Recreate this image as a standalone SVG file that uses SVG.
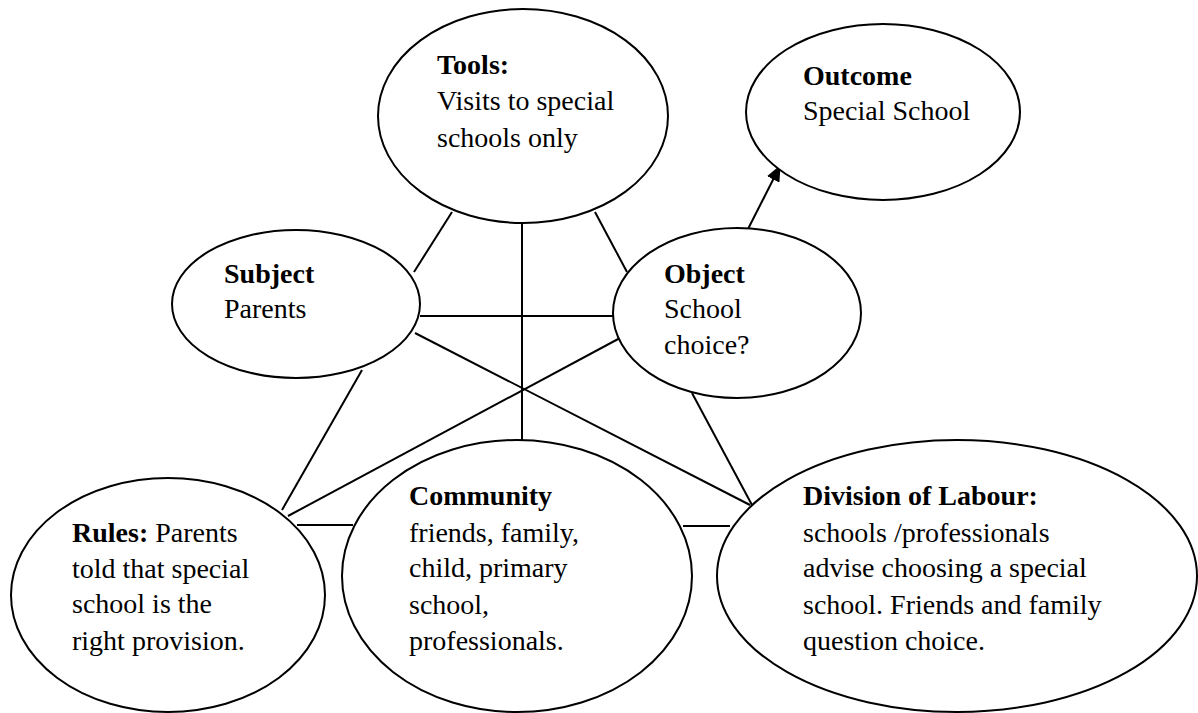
<svg xmlns="http://www.w3.org/2000/svg" width="1198" height="713" viewBox="0 0 1198 713">
<style>
.n{fill:#fff;stroke:#000;stroke-width:2}
.c line{stroke:#000;stroke-width:2}
text{font-family:"Liberation Serif","Times New Roman",serif;font-size:28px;fill:#000}
.b{font-weight:bold}
</style>
<defs>
<marker id="ah" markerWidth="16" markerHeight="14" refX="15" refY="7" orient="auto" markerUnits="userSpaceOnUse" viewBox="0 0 16 14">
<path d="M0,0 L16,7 L0,14 z" fill="#000"/>
</marker>
</defs>
<rect width="1198" height="713" fill="#fff"/>
<g class="c" id="connectors">
<line x1="414" y1="272" x2="452" y2="212"/>
<line x1="595" y1="212" x2="627" y2="272"/>
<line x1="522" y1="223" x2="522" y2="440"/>
<line x1="420" y1="316" x2="613" y2="316"/>
<line x1="415" y1="333" x2="750" y2="505"/>
<line x1="692" y1="393" x2="752" y2="505"/>
<line x1="362" y1="370" x2="282" y2="510"/>
<line x1="620" y1="338" x2="288" y2="516"/>
<line x1="297" y1="525" x2="353" y2="525"/>
<line x1="683" y1="526" x2="730" y2="526"/>
<line x1="748" y1="229" x2="780" y2="166" marker-end="url(#ah)"/>
</g>
<g id="tools"><ellipse class="n" cx="523" cy="116" rx="145" ry="107"/>
<text x="437" y="74"><tspan class="b">Tools:</tspan><tspan x="437" y="110">Visits to special</tspan><tspan x="437" y="147">schools only</tspan></text></g>
<g id="outcome"><ellipse class="n" cx="883" cy="112" rx="137" ry="88"/>
<text x="803" y="85"><tspan class="b">Outcome</tspan><tspan x="803" y="120">Special School</tspan></text></g>
<g id="subject"><ellipse class="n" cx="296" cy="304" rx="124" ry="74"/>
<text x="224" y="283"><tspan class="b">Subject</tspan><tspan x="224" y="318">Parents</tspan></text></g>
<g id="object"><ellipse class="n" cx="737" cy="313" rx="124" ry="85"/>
<text x="664" y="283"><tspan class="b">Object</tspan><tspan x="664" y="318">School</tspan><tspan x="664" y="354">choice?</tspan></text></g>
<g id="rules"><ellipse class="n" cx="168" cy="595" rx="157" ry="117"/>
<text x="72" y="542"><tspan class="b">Rules:</tspan> Parents<tspan x="72" y="578">told that special</tspan><tspan x="72" y="613">school is the</tspan><tspan x="72" y="650">right provision.</tspan></text></g>
<g id="community"><ellipse class="n" cx="517" cy="576" rx="175" ry="136"/>
<text x="409" y="505"><tspan class="b">Community</tspan><tspan x="409" y="542">friends, family,</tspan><tspan x="409" y="577">child, primary</tspan><tspan x="409" y="614">school,</tspan><tspan x="409" y="650">professionals.</tspan></text></g>
<g id="division"><ellipse class="n" cx="957" cy="576" rx="240" ry="136"/>
<text x="803" y="505"><tspan class="b">Division of Labour:</tspan><tspan x="803" y="542">schools /professionals</tspan><tspan x="803" y="577">advise choosing a special</tspan><tspan x="803" y="614">school. Friends and family</tspan><tspan x="803" y="650">question choice.</tspan></text></g>
</svg>
